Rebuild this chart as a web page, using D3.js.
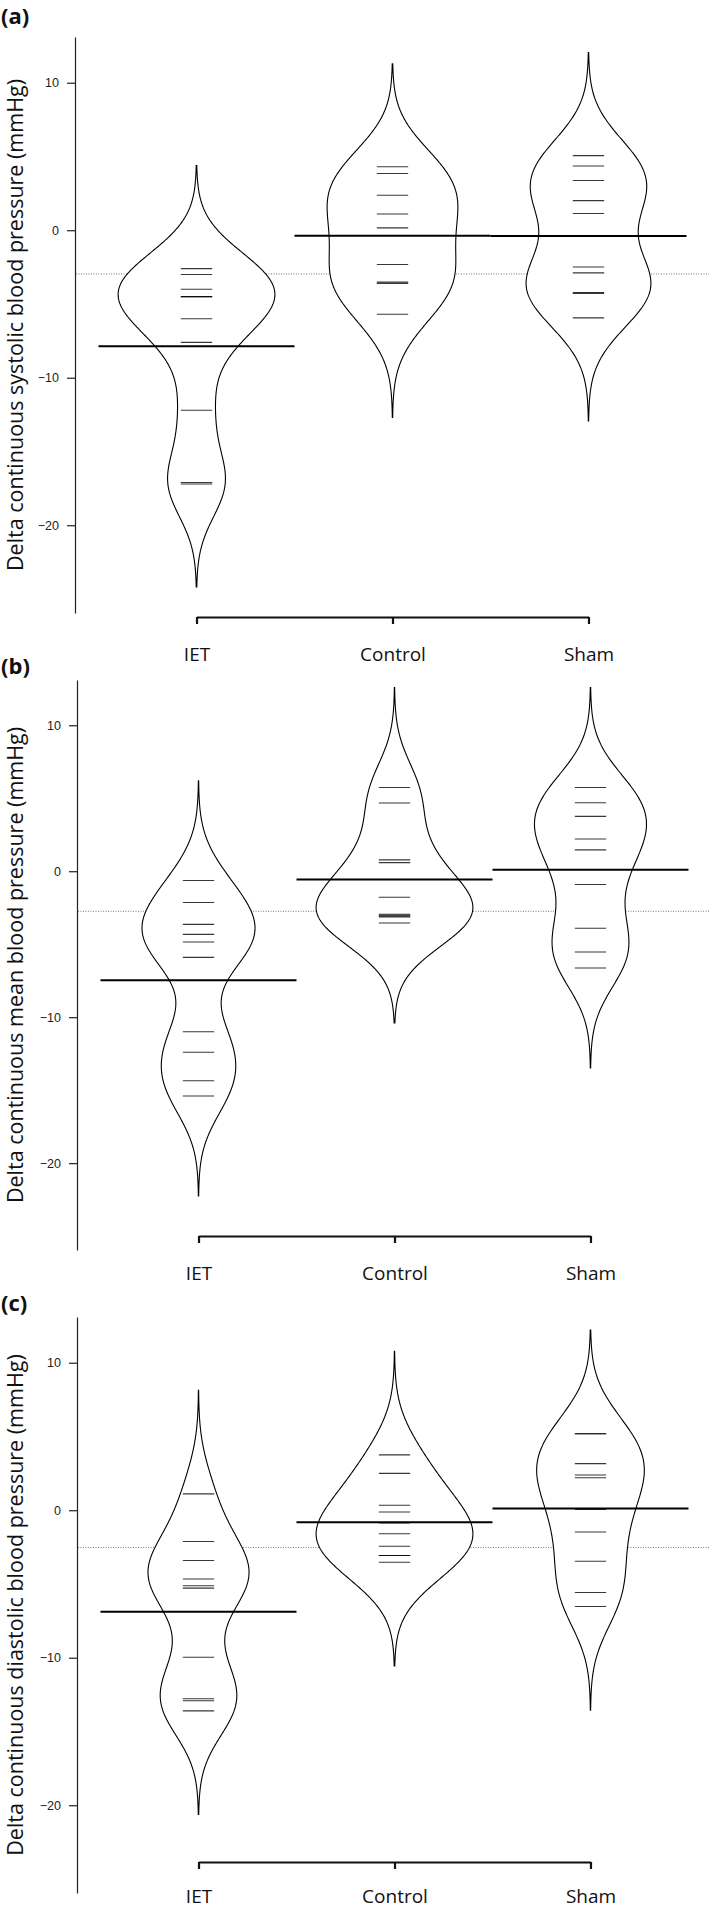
<!DOCTYPE html>
<html>
<head>
<meta charset="utf-8">
<script src="https://cdn.jsdelivr.net/npm/d3@7"></script>
<style>
  body { margin: 0; background: #fff; }
</style>
</head>
<body>
<div id="chart"></div>
<script>
var groups = ["IET", "Control", "Sham"];

// (a) delta systolic
var sysIET = [-2.6, -3.0, -4.0, -4.5, -4.5, -6.0, -7.6, -12.2, -17.1, -17.2];
var sysControl = [4.3, 3.85, 2.37, 1.1, 0.16, -2.32, -3.52, -3.6, -5.7];
var sysSham = [5.06, 4.35, 3.37, 2.01, 1.13, -2.49, -2.89, -4.22, -4.28, -5.94];

// (b) delta mean
var meanIET = [-0.64, -2.14, -3.64, -4.33, -4.85, -5.9, -11.0, -12.4, -14.35, -15.4];
var meanControl = [5.74, 4.67, 0.78, 0.59, -1.78, -2.95, -3.02, -3.08, -3.14, -3.55];
var meanSham = [5.74, 4.69, 3.76, 2.21, 1.46, -0.91, -3.91, -5.53, -6.63];

// (c) delta diastolic
var diaIET = [1.11, -2.12, -3.41, -4.66, -5.12, -5.28, -9.97, -12.78, -12.92, -13.6];
var diaControl = [3.75, 2.5, 0.34, -0.12, -0.87, -1.59, -2.44, -3.07, -3.07, -3.53];
var diaSham = [5.19, 5.19, 3.16, 2.39, 2.2, 0.05, -1.48, -3.46, -5.58, -6.53];

var panelLetters = ["(a)", "(b)", "(c)"];
var yTitles = [
    "Delta continuous systolic blood pressure (mmHg)",
    "Delta continuous mean blood pressure (mmHg)",
    "Delta continuous diastolic blood pressure (mmHg)"
];
var yTicks = [-20, -10, 0, 10];
var bandwidths = [2.33, 2.28, 2.34];

var width = 709,
    height = 1910;

var svg = d3.select("#chart").append("svg")
    .attr("width", width)
    .attr("height", height);

var panels = [
    { top: 37, bottom: 613, left: 75, bracketY: 617, labelPad: 24, letterY: 24, data: [sysIET, sysControl, sysSham] },
    { top: 680, bottom: 1250, left: 77, bracketY: 1236, labelPad: 24, letterY: 674, data: [meanIET, meanControl, meanSham] },
    { top: 1317, bottom: 1893, left: 77, bracketY: 1862, labelPad: 21, letterY: 1311, data: [diaIET, diaControl, diaSham] }
];

function kde(values, bw) {
    var lo = d3.min(values) - 3 * bw,
        hi = d3.max(values) + 3 * bw;
    return d3.range(0, 301).map(function(i) {
        var g = lo + (hi - lo) * i / 300;
        var s = d3.sum(values, function(v) {
            var u = (g - v) / bw;
            return Math.exp(-0.5 * u * u);
        });
        return [g, s / (values.length * bw * Math.sqrt(2 * Math.PI))];
    });
}

panels.forEach(function(p, k) {
    var g = svg.append("g");

    var x = d3.scaleLinear().domain([0.38, 3.62]).range([p.left, p.left + 635]),
        y = d3.scaleLinear().domain([-25.95, 13.1]).range([p.bottom, p.top]);

    var dens = p.data.map(function(vals) { return kde(vals, bandwidths[k]); });
    var maxD = d3.max(dens, function(d) { return d3.max(d, function(e) { return e[1]; }); });
    var w = d3.scaleLinear().domain([0, maxD]).range([0, 0.4 * (x(2) - x(1))]);

    // overall mean (dotted)
    var overall = d3.mean(d3.merge(p.data));
    g.append("line")
        .attr("x1", p.left + 1).attr("x2", x(3.62))
        .attr("y1", y(overall)).attr("y2", y(overall))
        .attr("stroke", "#777")
        .attr("stroke-width", 1)
        .attr("stroke-dasharray", "1,1.5");

    // beans
    dens.forEach(function(d, i) {
        var cx = x(i + 1);
        var area = d3.area()
            .y(function(e) { return y(e[0]); })
            .x0(function(e) { return cx - w(e[1]); })
            .x1(function(e) { return cx + w(e[1]); });
        g.append("path")
            .datum(d)
            .attr("d", area)
            .attr("fill", "#fff")
            .attr("stroke", "#000")
            .attr("stroke-width", 1.1);
    });

    // bean lines (one per observation)
    p.data.forEach(function(vals, i) {
        g.selectAll(null)
            .data(vals)
            .enter().append("line")
            .attr("x1", x(i + 1 - 0.08)).attr("x2", x(i + 1 + 0.08))
            .attr("y1", function(v) { return y(v); })
            .attr("y2", function(v) { return y(v); })
            .attr("stroke", "#000")
            .attr("stroke-opacity", 0.78)
            .attr("stroke-width", 1.1);
    });

    // group means
    p.data.forEach(function(vals, i) {
        var m = d3.mean(vals);
        g.append("line")
            .attr("x1", x(i + 0.5)).attr("x2", x(i + 1.5))
            .attr("y1", y(m)).attr("y2", y(m))
            .attr("stroke", "#000")
            .attr("stroke-width", 2);
    });

    // y axis
    var yAxis = g.append("g")
        .attr("transform", "translate(" + p.left + ",0)")
        .call(d3.axisLeft(y).tickValues(yTicks).tickSize(8).tickPadding(8).tickSizeOuter(0));
    yAxis.selectAll("path, line").attr("stroke", "#222").attr("stroke-width", 1.2);
    yAxis.selectAll("text")
        .attr("font-family", "Liberation Sans, Arial, sans-serif")
        .attr("font-size", 12.5)
        .attr("fill", "#222");

    // group axis bracket
    var xb = d3.scaleLinear().domain([1, 3]).range([x(1), x(3)]);
    var xAxis = g.append("g")
        .attr("transform", "translate(0," + p.bracketY + ")")
        .call(d3.axisBottom(xb).tickValues([1, 2, 3]).tickSize(7).tickPadding(p.labelPad).tickSizeOuter(0)
            .tickFormat(function(i) { return groups[i - 1]; }));
    xAxis.selectAll("path, line").attr("stroke", "#111").attr("stroke-width", 2.2);
    xAxis.selectAll("text")
        .attr("font-family", "Open Sans, sans-serif")
        .attr("font-size", 19)
        .attr("fill", "#111");

    // y title
    g.append("text")
        .attr("transform", "translate(23," + ((p.top + p.bottom) / 2) + ") rotate(-90)")
        .attr("text-anchor", "middle")
        .attr("font-family", "Open Sans, sans-serif")
        .attr("font-size", 21.5)
        .attr("fill", "#111")
        .text(yTitles[k]);

    // panel letter
    g.append("text")
        .attr("x", 1).attr("y", p.letterY)
        .attr("font-family", "Open Sans, sans-serif")
        .attr("font-weight", "bold")
        .attr("font-size", 22)
        .attr("fill", "#111")
        .text(panelLetters[k]);
});
</script>
</body>
</html>
